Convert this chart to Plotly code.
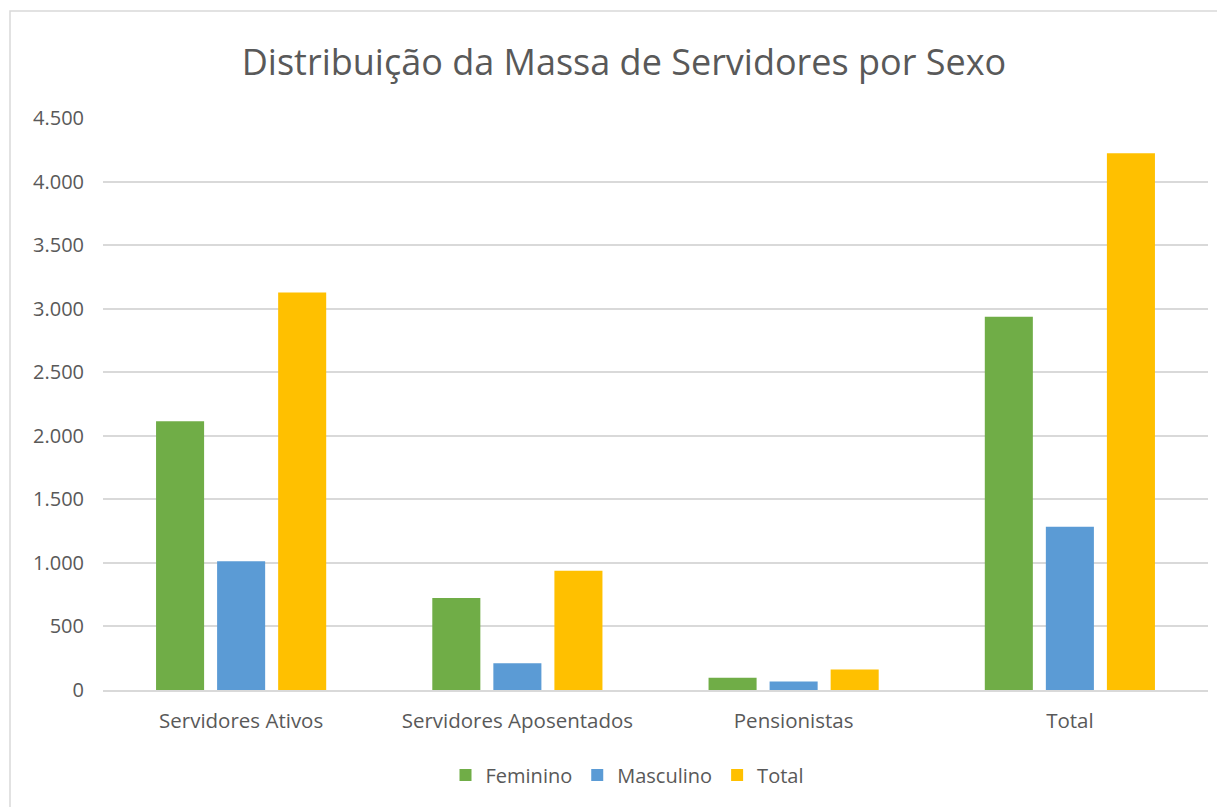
import plotly.graph_objects as go

categories = ["Servidores Ativos", "Servidores Aposentados", "Pensionistas", "Total"]
feminino = [2114, 724, 97, 2936]
masculino = [1012, 211, 67, 1284]
total = [3127, 938, 162, 4223]
tick_vals = [0, 500, 1000, 1500, 2000, 2500, 3000, 3500, 4000, 4500]
tick_text = ["0", "500", "1.000", "1.500", "2.000", "2.500", "3.000", "3.500", "4.000", "4.500"]

# page has an 8px body margin; compensate so the figure lands where the reference is
OFF = 8
W, H = 1225, 807
L, R, T, B = 103 - OFF, 17 + OFF, 118 - OFF, 117 + OFF
pw, ph = W - L - R, H - T - B

def px_to_paper_x(x):
    return (x - OFF - L) / pw

def px_to_paper_y(y):
    return (H - B - (y - OFF)) / ph

font_family = "Open Sans, Noto Sans, sans-serif"
grey = "#595959"

fig = go.Figure()
for name, vals, color in [("Feminino", feminino, "#70AD47"),
                          ("Masculino", masculino, "#5B9BD5"),
                          ("Total", total, "#FFC000")]:
    fig.add_trace(go.Bar(name=name, x=categories, y=vals, marker_color=color,
                         marker_line_width=0))

fig.update_layout(
    width=W, height=H,
    margin=dict(l=L, r=R, t=T, b=B),
    paper_bgcolor="white", plot_bgcolor="white",
    barmode="group", bargap=0.337, bargroupgap=0.213,
    title=dict(text="Distribuição da Massa de Servidores por Sexo",
               x=(624 - OFF) / W, xref="container", xanchor="center",
               y=1 - (62 - OFF) / H, yref="container", yanchor="middle",
               font=dict(family=font_family, size=36, color=grey)),
    font=dict(family=font_family, size=20, color=grey),
    showlegend=True,
    legend=dict(orientation="h", x=(627 - OFF) / W, xanchor="center",
                xref="container", y=1 - (775 - OFF) / H, yref="container", yanchor="middle",
                font=dict(size=20, color=grey), traceorder="normal",
                itemwidth=30),
    xaxis=dict(showgrid=False, showline=True, linecolor="#d9d9d9", linewidth=1.5,
               ticks="", tickfont=dict(size=20.5, color=grey), ticklabelstandoff=12),
    yaxis=dict(range=[0, 4500], tickvals=tick_vals, ticktext=tick_text,
               showgrid=True, gridcolor="#d9d9d9", gridwidth=1.5,
               zeroline=False, showline=False, ticks="",
               tickfont=dict(size=20, color=grey), ticklabelstandoff=18),
)

# outer chart border (top and left visible)
fig.add_shape(type="rect", xref="paper", yref="paper",
              x0=px_to_paper_x(10), x1=px_to_paper_x(1260),
              y0=px_to_paper_y(840), y1=px_to_paper_y(11),
              line=dict(color="#d9d9d9", width=1.5), fillcolor="rgba(0,0,0,0)",
              layer="below")

fig.write_html("out.html")
